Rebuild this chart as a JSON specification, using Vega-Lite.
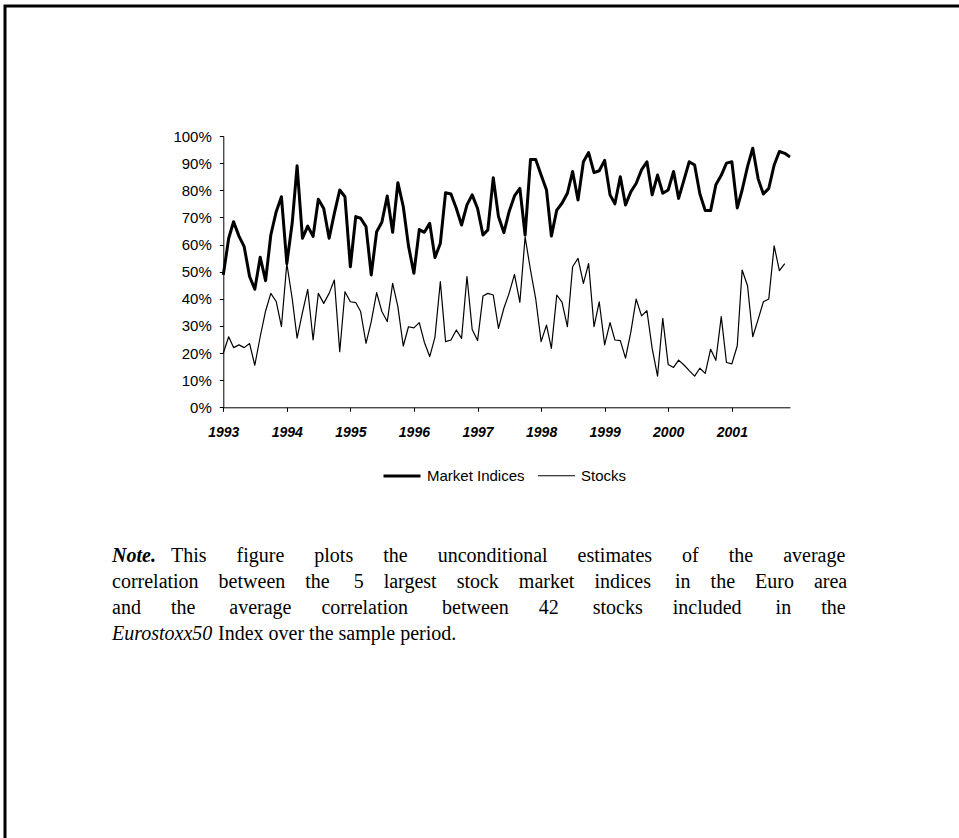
{
  "$schema": "https://vega.github.io/schema/vega-lite/v6.json",
  "width": 958,
  "height": 836,
  "autosize": {"type": "none"},
  "padding": {"left": 5, "top": 6, "right": -4, "bottom": -4},
  "background": "white",
  "config": {
    "view": {"stroke": "#000", "strokeWidth": 3},
    "font": "Liberation Sans",
    "axis": {"grid": false, "domainColor": "#000", "tickColor": "#000", "labelColor": "#000", "domainWidth": 1, "tickWidth": 1, "labelFont": "Liberation Sans"}
  },
  "datasets": {
    "series": [
      {"date":"1993-01-01","series":"Market Indices","value":48.8},{"date":"1993-02-01","series":"Market Indices","value":62.3},{"date":"1993-03-01","series":"Market Indices","value":68.4},{"date":"1993-04-01","series":"Market Indices","value":63.1},{"date":"1993-05-01","series":"Market Indices","value":59.2},{"date":"1993-06-01","series":"Market Indices","value":48.2},{"date":"1993-07-01","series":"Market Indices","value":43.5},{"date":"1993-08-01","series":"Market Indices","value":55.3},{"date":"1993-09-01","series":"Market Indices","value":46.7},{"date":"1993-10-01","series":"Market Indices","value":63.5},{"date":"1993-11-01","series":"Market Indices","value":72.1},{"date":"1993-12-01","series":"Market Indices","value":77.6},
      {"date":"1994-01-01","series":"Market Indices","value":53},{"date":"1994-02-01","series":"Market Indices","value":68},{"date":"1994-03-01","series":"Market Indices","value":89},{"date":"1994-04-01","series":"Market Indices","value":62.3},{"date":"1994-05-01","series":"Market Indices","value":66.8},{"date":"1994-06-01","series":"Market Indices","value":63},{"date":"1994-07-01","series":"Market Indices","value":76.7},{"date":"1994-08-01","series":"Market Indices","value":73.3},{"date":"1994-09-01","series":"Market Indices","value":62.3},{"date":"1994-10-01","series":"Market Indices","value":71.5},{"date":"1994-11-01","series":"Market Indices","value":80.1},{"date":"1994-12-01","series":"Market Indices","value":77.6},
      {"date":"1995-01-01","series":"Market Indices","value":51.8},{"date":"1995-02-01","series":"Market Indices","value":70.3},{"date":"1995-03-01","series":"Market Indices","value":69.7},{"date":"1995-04-01","series":"Market Indices","value":66.6},{"date":"1995-05-01","series":"Market Indices","value":48.8},{"date":"1995-06-01","series":"Market Indices","value":64.7},{"date":"1995-07-01","series":"Market Indices","value":68.2},{"date":"1995-08-01","series":"Market Indices","value":77.9},{"date":"1995-09-01","series":"Market Indices","value":64.5},{"date":"1995-10-01","series":"Market Indices","value":82.8},{"date":"1995-11-01","series":"Market Indices","value":74},{"date":"1995-12-01","series":"Market Indices","value":59.5},
      {"date":"1996-01-01","series":"Market Indices","value":49.4},{"date":"1996-02-01","series":"Market Indices","value":65.5},{"date":"1996-03-01","series":"Market Indices","value":64.5},{"date":"1996-04-01","series":"Market Indices","value":67.8},{"date":"1996-05-01","series":"Market Indices","value":55.2},{"date":"1996-06-01","series":"Market Indices","value":60.4},{"date":"1996-07-01","series":"Market Indices","value":79.1},{"date":"1996-08-01","series":"Market Indices","value":78.6},{"date":"1996-09-01","series":"Market Indices","value":73.3},{"date":"1996-10-01","series":"Market Indices","value":67.2},{"date":"1996-11-01","series":"Market Indices","value":74.6},{"date":"1996-12-01","series":"Market Indices","value":78.3},
      {"date":"1997-01-01","series":"Market Indices","value":73.3},{"date":"1997-02-01","series":"Market Indices","value":63.5},{"date":"1997-03-01","series":"Market Indices","value":65.4},{"date":"1997-04-01","series":"Market Indices","value":84.6},{"date":"1997-05-01","series":"Market Indices","value":70.3},{"date":"1997-06-01","series":"Market Indices","value":64.4},{"date":"1997-07-01","series":"Market Indices","value":72.1},{"date":"1997-08-01","series":"Market Indices","value":77.9},{"date":"1997-09-01","series":"Market Indices","value":80.7},{"date":"1997-10-01","series":"Market Indices","value":63.5},{"date":"1997-11-01","series":"Market Indices","value":91.3},{"date":"1997-12-01","series":"Market Indices","value":91.3},
      {"date":"1998-01-01","series":"Market Indices","value":85.6},{"date":"1998-02-01","series":"Market Indices","value":80.1},{"date":"1998-03-01","series":"Market Indices","value":63.1},{"date":"1998-04-01","series":"Market Indices","value":72.7},{"date":"1998-05-01","series":"Market Indices","value":75.2},{"date":"1998-06-01","series":"Market Indices","value":78.9},{"date":"1998-07-01","series":"Market Indices","value":86.9},{"date":"1998-08-01","series":"Market Indices","value":76.4},{"date":"1998-09-01","series":"Market Indices","value":90.5},{"date":"1998-10-01","series":"Market Indices","value":93.9},{"date":"1998-11-01","series":"Market Indices","value":86.5},{"date":"1998-12-01","series":"Market Indices","value":87.2},
      {"date":"1999-01-01","series":"Market Indices","value":91},{"date":"1999-02-01","series":"Market Indices","value":78.3},{"date":"1999-03-01","series":"Market Indices","value":75},{"date":"1999-04-01","series":"Market Indices","value":85},{"date":"1999-05-01","series":"Market Indices","value":74.6},{"date":"1999-06-01","series":"Market Indices","value":79.5},{"date":"1999-07-01","series":"Market Indices","value":82.5},{"date":"1999-08-01","series":"Market Indices","value":87.5},{"date":"1999-09-01","series":"Market Indices","value":90.5},{"date":"1999-10-01","series":"Market Indices","value":78.3},{"date":"1999-11-01","series":"Market Indices","value":85.6},{"date":"1999-12-01","series":"Market Indices","value":78.9},
      {"date":"2000-01-01","series":"Market Indices","value":80.1},{"date":"2000-02-01","series":"Market Indices","value":86.9},{"date":"2000-03-01","series":"Market Indices","value":77},{"date":"2000-04-01","series":"Market Indices","value":83.8},{"date":"2000-05-01","series":"Market Indices","value":90.5},{"date":"2000-06-01","series":"Market Indices","value":89.3},{"date":"2000-07-01","series":"Market Indices","value":78.7},{"date":"2000-08-01","series":"Market Indices","value":72.5},{"date":"2000-09-01","series":"Market Indices","value":72.5},{"date":"2000-10-01","series":"Market Indices","value":82},{"date":"2000-11-01","series":"Market Indices","value":85.5},{"date":"2000-12-01","series":"Market Indices","value":90},
      {"date":"2001-01-01","series":"Market Indices","value":90.5},{"date":"2001-02-01","series":"Market Indices","value":73.5},{"date":"2001-03-01","series":"Market Indices","value":80.1},{"date":"2001-04-01","series":"Market Indices","value":88.7},{"date":"2001-05-01","series":"Market Indices","value":95.5},{"date":"2001-06-01","series":"Market Indices","value":84.2},{"date":"2001-07-01","series":"Market Indices","value":78.6},{"date":"2001-08-01","series":"Market Indices","value":80.7},{"date":"2001-09-01","series":"Market Indices","value":89.3},{"date":"2001-10-01","series":"Market Indices","value":94.3},{"date":"2001-11-01","series":"Market Indices","value":93.6},{"date":"2001-12-01","series":"Market Indices","value":92.3},
      {"date":"1993-01-01","series":"Stocks","value":20},{"date":"1993-02-01","series":"Stocks","value":26},{"date":"1993-03-01","series":"Stocks","value":22},{"date":"1993-04-01","series":"Stocks","value":23},{"date":"1993-05-01","series":"Stocks","value":22},{"date":"1993-06-01","series":"Stocks","value":23.5},{"date":"1993-07-01","series":"Stocks","value":15.5},{"date":"1993-08-01","series":"Stocks","value":26},{"date":"1993-09-01","series":"Stocks","value":35.5},{"date":"1993-10-01","series":"Stocks","value":42},{"date":"1993-11-01","series":"Stocks","value":39},{"date":"1993-12-01","series":"Stocks","value":29.7},
      {"date":"1994-01-01","series":"Stocks","value":53},{"date":"1994-02-01","series":"Stocks","value":40},{"date":"1994-03-01","series":"Stocks","value":25.5},{"date":"1994-04-01","series":"Stocks","value":35},{"date":"1994-05-01","series":"Stocks","value":43.5},{"date":"1994-06-01","series":"Stocks","value":24.8},{"date":"1994-07-01","series":"Stocks","value":42},{"date":"1994-08-01","series":"Stocks","value":38.3},{"date":"1994-09-01","series":"Stocks","value":42},{"date":"1994-10-01","series":"Stocks","value":46.9},{"date":"1994-11-01","series":"Stocks","value":20.5},{"date":"1994-12-01","series":"Stocks","value":42.6},
      {"date":"1995-01-01","series":"Stocks","value":38.9},{"date":"1995-02-01","series":"Stocks","value":38.6},{"date":"1995-03-01","series":"Stocks","value":35.3},{"date":"1995-04-01","series":"Stocks","value":23.6},{"date":"1995-05-01","series":"Stocks","value":31.6},{"date":"1995-06-01","series":"Stocks","value":42.3},{"date":"1995-07-01","series":"Stocks","value":35.3},{"date":"1995-08-01","series":"Stocks","value":31.6},{"date":"1995-09-01","series":"Stocks","value":45.7},{"date":"1995-10-01","series":"Stocks","value":37.1},{"date":"1995-11-01","series":"Stocks","value":22.6},{"date":"1995-12-01","series":"Stocks","value":29.7},
      {"date":"1996-01-01","series":"Stocks","value":29.3},{"date":"1996-02-01","series":"Stocks","value":31.2},{"date":"1996-03-01","series":"Stocks","value":24},{"date":"1996-04-01","series":"Stocks","value":18.7},{"date":"1996-05-01","series":"Stocks","value":25.8},{"date":"1996-06-01","series":"Stocks","value":46.3},{"date":"1996-07-01","series":"Stocks","value":24.2},{"date":"1996-08-01","series":"Stocks","value":24.8},{"date":"1996-09-01","series":"Stocks","value":28.5},{"date":"1996-10-01","series":"Stocks","value":25.4},{"date":"1996-11-01","series":"Stocks","value":48.2},{"date":"1996-12-01","series":"Stocks","value":28.7},
      {"date":"1997-01-01","series":"Stocks","value":24.6},{"date":"1997-02-01","series":"Stocks","value":41},{"date":"1997-03-01","series":"Stocks","value":42},{"date":"1997-04-01","series":"Stocks","value":41.4},{"date":"1997-05-01","series":"Stocks","value":29.1},{"date":"1997-06-01","series":"Stocks","value":36.5},{"date":"1997-07-01","series":"Stocks","value":42},{"date":"1997-08-01","series":"Stocks","value":49},{"date":"1997-09-01","series":"Stocks","value":38.7},{"date":"1997-10-01","series":"Stocks","value":62.8},{"date":"1997-11-01","series":"Stocks","value":50.6},{"date":"1997-12-01","series":"Stocks","value":40},
      {"date":"1998-01-01","series":"Stocks","value":24.2},{"date":"1998-02-01","series":"Stocks","value":30.3},{"date":"1998-03-01","series":"Stocks","value":21.7},{"date":"1998-04-01","series":"Stocks","value":41.4},{"date":"1998-05-01","series":"Stocks","value":38.8},{"date":"1998-06-01","series":"Stocks","value":29.7},{"date":"1998-07-01","series":"Stocks","value":51.8},{"date":"1998-08-01","series":"Stocks","value":54.9},{"date":"1998-09-01","series":"Stocks","value":45.7},{"date":"1998-10-01","series":"Stocks","value":53},{"date":"1998-11-01","series":"Stocks","value":29.7},{"date":"1998-12-01","series":"Stocks","value":38.9},
      {"date":"1999-01-01","series":"Stocks","value":23},{"date":"1999-02-01","series":"Stocks","value":31.2},{"date":"1999-03-01","series":"Stocks","value":24.8},{"date":"1999-04-01","series":"Stocks","value":24.6},{"date":"1999-05-01","series":"Stocks","value":18.1},{"date":"1999-06-01","series":"Stocks","value":27.9},{"date":"1999-07-01","series":"Stocks","value":39.9},{"date":"1999-08-01","series":"Stocks","value":33.7},{"date":"1999-09-01","series":"Stocks","value":35.6},{"date":"1999-10-01","series":"Stocks","value":21.7},{"date":"1999-11-01","series":"Stocks","value":11.5},{"date":"1999-12-01","series":"Stocks","value":32.8},
      {"date":"2000-01-01","series":"Stocks","value":15.8},{"date":"2000-02-01","series":"Stocks","value":14.7},{"date":"2000-03-01","series":"Stocks","value":17.4},{"date":"2000-04-01","series":"Stocks","value":15.6},{"date":"2000-05-01","series":"Stocks","value":13.5},{"date":"2000-06-01","series":"Stocks","value":11.5},{"date":"2000-07-01","series":"Stocks","value":14.4},{"date":"2000-08-01","series":"Stocks","value":12.5},{"date":"2000-09-01","series":"Stocks","value":21.4},{"date":"2000-10-01","series":"Stocks","value":17.3},{"date":"2000-11-01","series":"Stocks","value":33.4},{"date":"2000-12-01","series":"Stocks","value":16.5},
      {"date":"2001-01-01","series":"Stocks","value":16},{"date":"2001-02-01","series":"Stocks","value":22.7},{"date":"2001-03-01","series":"Stocks","value":50.6},{"date":"2001-04-01","series":"Stocks","value":44.8},{"date":"2001-05-01","series":"Stocks","value":26},{"date":"2001-06-01","series":"Stocks","value":32.4},{"date":"2001-07-01","series":"Stocks","value":38.9},{"date":"2001-08-01","series":"Stocks","value":39.9},{"date":"2001-09-01","series":"Stocks","value":59.5},{"date":"2001-10-01","series":"Stocks","value":50.4},{"date":"2001-11-01","series":"Stocks","value":53}
    ],
    "note": [
      {"line": 1, "part": "lead", "text": "Note."},
      {"line": 1, "part": "first", "text": "This\u2003\u2002figure\u2003\u2002plots\u2003\u2002the\u2003\u2002unconditional\u2003\u2002estimates\u2003\u2002of\u2003\u2002the\u2003\u2002average"},
      {"line": 2, "part": "body", "text": "correlation\u2003between\u2003the\u2003\u20095\u2003largest\u2003stock\u2003market\u2003indices\u2003\u2009in\u2003the\u2003Euro\u2003area"},
      {"line": 3, "part": "body", "text": "and\u2003\u2002the\u2003\u2002\u2009average\u2003\u2002correlation\u2003\u2002\u2009between\u2003\u200242\u2003\u2002\u2009stocks\u2003\u2002included\u2003\u2002\u2009in\u2003\u2002the"},
      {"line": 4, "part": "name", "text": "Eurostoxx50"},
      {"line": 4, "part": "tail", "text": "Index over the sample period."}
    ]
  },
  "layer": [
    {
      "data": {"name": "series"},
      "mark": {"type": "line", "color": "#000", "strokeJoin": "round", "clip": false},
      "encoding": {
        "x": {
          "field": "date", "type": "temporal",
          "scale": {"type": "utc", "domain": [{"year": 1993, "month": 1, "date": 1, "utc": true}, {"year": 2001, "month": 12, "date": 1, "utc": true}], "range": [218.3, 785]},
          "axis": {
            "title": null, "orient": "bottom", "offset": -434.7,
            "values": [{"year": 1993, "utc": true}, {"year": 1994, "utc": true}, {"year": 1995, "utc": true}, {"year": 1996, "utc": true}, {"year": 1997, "utc": true}, {"year": 1998, "utc": true}, {"year": 1999, "utc": true}, {"year": 2000, "utc": true}, {"year": 2001, "utc": true}],
            "labelExpr": "utcFormat(datum.value, '%Y')",
            "labelFontSize": 14, "labelFontWeight": "bold", "labelFontStyle": "italic",
            "tickSize": 4, "labelPadding": 14, "labelFlush": false, "labelOverlap": false
          }
        },
        "y": {
          "field": "value", "type": "quantitative",
          "scale": {"domain": [0, 100], "range": [401.3, 130], "nice": false},
          "axis": {
            "title": null, "orient": "left", "offset": -218.3,
            "values": [0, 10, 20, 30, 40, 50, 60, 70, 80, 90, 100],
            "labelExpr": "datum.value + '%'",
            "labelFontSize": 15, "tickSize": 4, "labelPadding": 8
          }
        },
        "strokeWidth": {
          "field": "series", "type": "nominal",
          "scale": {"domain": ["Market Indices", "Stocks"], "range": [3, 1.2]},
          "legend": {
            "orient": "none", "legendX": 377, "legendY": 450, "direction": "horizontal",
            "title": null, "symbolType": "stroke", "symbolSize": 1369, "symbolStrokeColor": "#000",
            "labelFontSize": 15, "labelFont": "Liberation Sans", "labelColor": "#000",
            "columnPadding": 10, "labelOffset": 5
          }
        },
        "detail": {"field": "series"}
      }
    },
    {
      "data": {"name": "note"},
      "transform": [{"filter": "datum.part === 'lead'"}],
      "mark": {"type": "text", "align": "left", "baseline": "alphabetic", "font": "Liberation Serif", "fontSize": 20, "fontStyle": "italic", "fontWeight": "bold", "color": "#000"},
      "encoding": {
        "x": {"value": 107},
        "y": {"field": "line", "type": "quantitative", "scale": {"domain": [1, 4], "range": [556, 634]}, "axis": null},
        "text": {"field": "text"}
      }
    },
    {
      "data": {"name": "note"},
      "transform": [{"filter": "datum.part === 'first'"}],
      "mark": {"type": "text", "align": "left", "baseline": "alphabetic", "font": "Liberation Serif", "fontSize": 20, "color": "#000"},
      "encoding": {
        "x": {"value": 166},
        "y": {"field": "line", "type": "quantitative", "scale": {"domain": [1, 4], "range": [556, 634]}, "axis": null},
        "text": {"field": "text"}
      }
    },
    {
      "data": {"name": "note"},
      "transform": [{"filter": "datum.part === 'body'"}],
      "mark": {"type": "text", "align": "left", "baseline": "alphabetic", "font": "Liberation Serif", "fontSize": 20, "color": "#000"},
      "encoding": {
        "x": {"value": 107},
        "y": {"field": "line", "type": "quantitative", "scale": {"domain": [1, 4], "range": [556, 634]}, "axis": null},
        "text": {"field": "text"}
      }
    },
    {
      "data": {"name": "note"},
      "transform": [{"filter": "datum.part === 'name'"}],
      "mark": {"type": "text", "align": "left", "baseline": "alphabetic", "font": "Liberation Serif", "fontSize": 20, "fontStyle": "italic", "color": "#000"},
      "encoding": {
        "x": {"value": 107},
        "y": {"field": "line", "type": "quantitative", "scale": {"domain": [1, 4], "range": [556, 634]}, "axis": null},
        "text": {"field": "text"}
      }
    },
    {
      "data": {"name": "note"},
      "transform": [{"filter": "datum.part === 'tail'"}],
      "mark": {"type": "text", "align": "left", "baseline": "alphabetic", "font": "Liberation Serif", "fontSize": 20, "color": "#000"},
      "encoding": {
        "x": {"value": 213},
        "y": {"field": "line", "type": "quantitative", "scale": {"domain": [1, 4], "range": [556, 634]}, "axis": null},
        "text": {"field": "text"}
      }
    }
  ],
  "resolve": {"scale": {"y": "independent", "x": "independent"}}
}
